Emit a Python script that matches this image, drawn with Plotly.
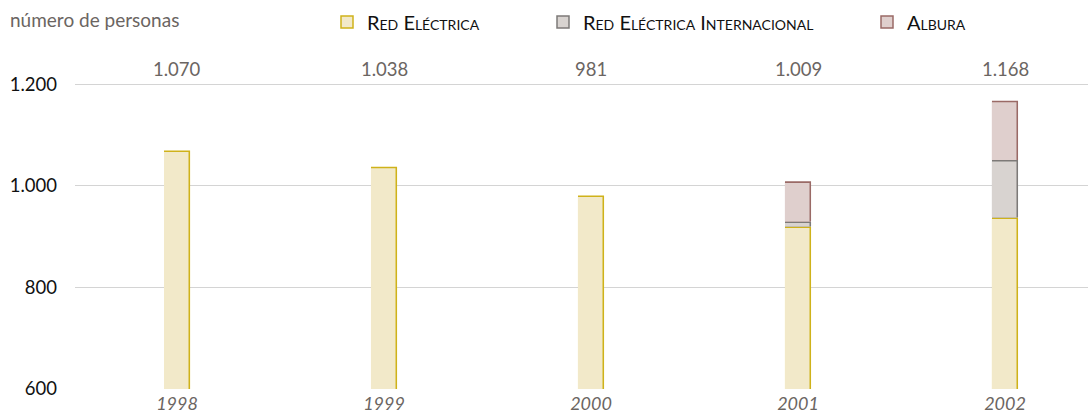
import plotly.graph_objects as go

years = ["1998", "1999", "2000", "2001", "2002"]
red_electrica = [1070, 1038, 981, 920, 938]
rei = [0, 0, 0, 10, 113]
albura = [0, 0, 0, 79, 117]
series_names = ["Red Eléctrica", "Red Eléctrica Internacional", "Albura"]

fills = ["#f2e9c9", "#d8d3d0", "#dfcfcd"]
edges = ["#cfb21a", "#7d7a78", "#9a6a66"]

W = 0.126      # bar width (category units)
EPS_X = 0.0075 # right edge thickness
EPS_Y = 3.0    # top edge thickness (value units)

x_idx = list(range(len(years)))
totals = [a + b + c for a, b, c in zip(red_electrica, rei, albura)]

fig = go.Figure()
legends = ["legend", "legend2", "legend3"]
stack_base = [0] * len(years)
for k, vals in enumerate([red_electrica, rei, albura]):
    xs, bs, hs = [], [], []
    for i, v in enumerate(vals):
        if v <= 0:
            continue
        b = 600 if k == 0 else stack_base[i]
        top = stack_base[i] + v
        xs.append(x_idx[i]); bs.append(b); hs.append(top - b)
    for i, v in enumerate(vals):
        stack_base[i] += v
    # edge (drawn first)
    fig.add_trace(go.Bar(x=xs, y=hs, base=bs, width=W, offset=-W / 2,
                         marker=dict(color=edges[k], line=dict(width=0)),
                         showlegend=False, hoverinfo="skip"))
    # fill
    fig.add_trace(go.Bar(x=xs, y=[h - EPS_Y for h in hs], base=bs, width=W - EPS_X,
                         offset=-W / 2, marker=dict(color=fills[k], line=dict(width=0)),
                         showlegend=False, hoverinfo="skip"))
    # legend entry
    fig.add_trace(go.Bar(x=[None], y=[None], name=series_names[k],
                         marker=dict(color=fills[k], line=dict(color=edges[k], width=1.5)),
                         legend=legends[k], showlegend=True))

for i, t in enumerate(totals):
    fig.add_annotation(x=x_idx[i], y=1231, text=f"{t:,}".replace(",", "."),
                       showarrow=False, xanchor="center", yanchor="middle",
                       font=dict(size=18.5, color="#6b6562"))

leg_common = dict(orientation="h", xref="container", yref="container", yanchor="middle",
                  xanchor="left", bgcolor="rgba(0,0,0,0)",
                  font=dict(size=20, color="#111111", variant="small-caps"))
fig.update_layout(
    title=dict(text="número de personas", xref="container", yref="container",
               x=10 / 1088, y=1 - 20 / 419, xanchor="left", yanchor="middle",
               font=dict(size=19, color="#6b6562")),
    legend=dict(x=327 / 1088, y=1 - 22 / 419, **leg_common),
    legend2=dict(x=543 / 1088, y=1 - 22 / 419, **leg_common),
    legend3=dict(x=867 / 1088, y=1 - 22 / 419, **leg_common),
)

fig.update_layout(
    width=1088, height=419,
    margin=dict(l=75, r=0, t=59, b=30),
    barmode="overlay",
    separators=",.",
    plot_bgcolor="white", paper_bgcolor="white",
    font=dict(family="Lato, Open Sans, sans-serif"),
    xaxis=dict(range=[-0.493, 4.401], tickmode="array", tickvals=x_idx, ticktext=years,
               showgrid=False, zeroline=False, showline=False, ticks="",
               ticklabelstandoff=2,
               tickfont=dict(size=18, color="#6b6562", style="italic")),
    yaxis=dict(range=[600, 1250], tickvals=[600, 800, 1000, 1200], tickformat=",d",
               showgrid=True, gridcolor="#d4d4d4", gridwidth=1, zeroline=False,
               showline=False, ticks="", ticklabelstandoff=17,
               tickfont=dict(size=18.5, color="#111111")),
)

fig.write_html("out.html", config={"displayModeBar": False},
               post_script="document.body.style.margin='0';")
